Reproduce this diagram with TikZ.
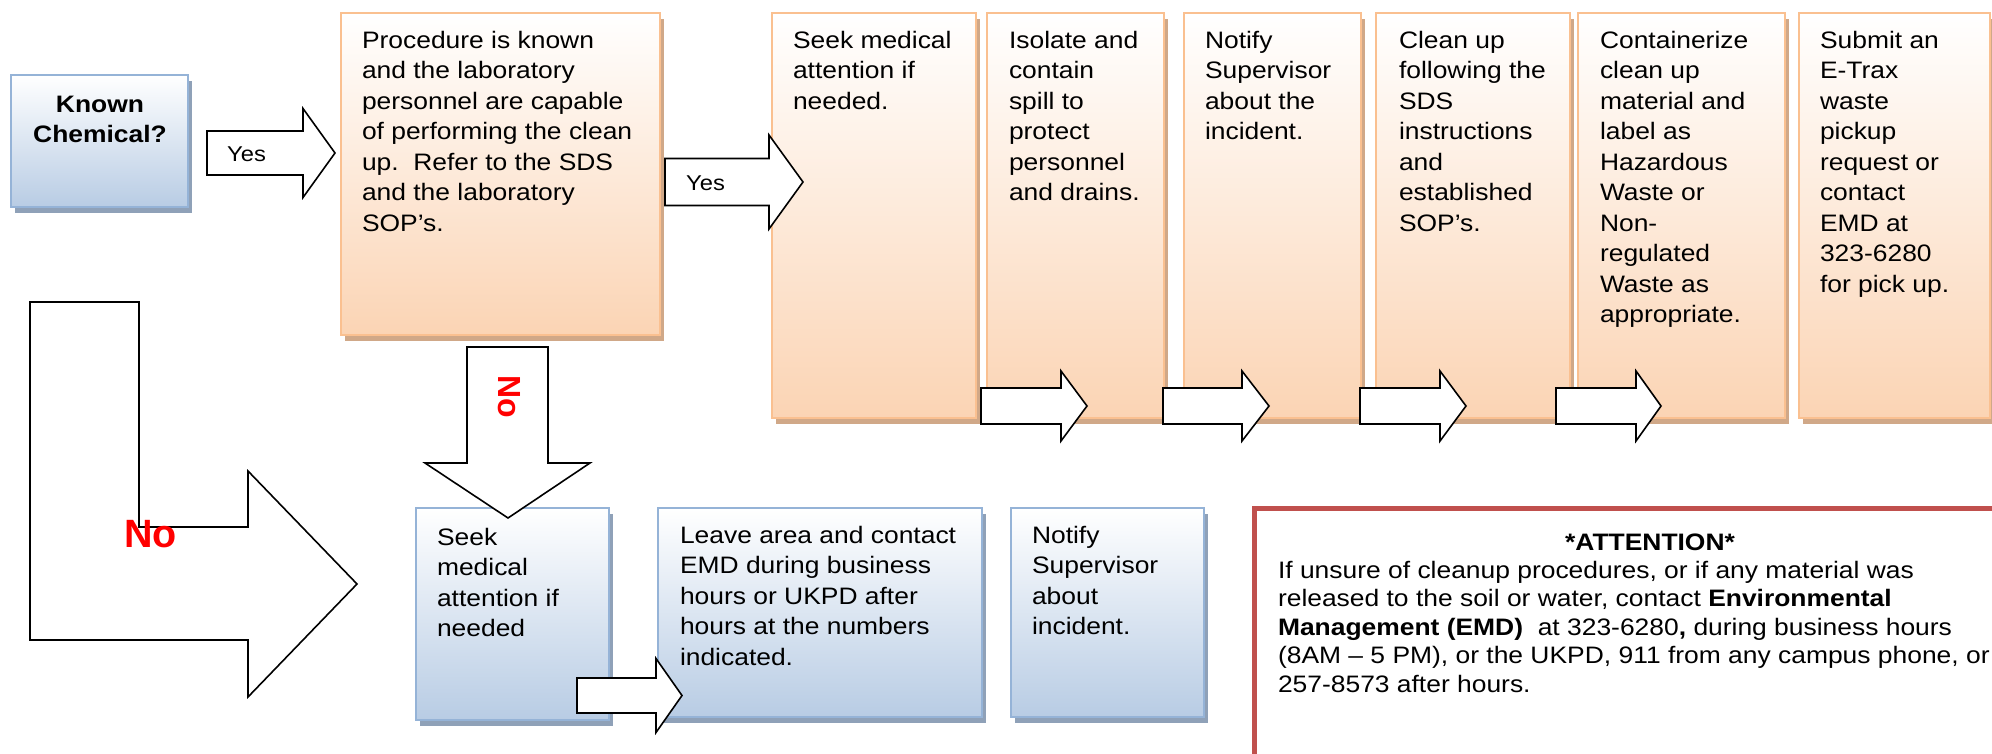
\documentclass[tikz,border=0pt]{standalone}
\usepackage{fontspec}
\setmainfont{Liberation Sans}[FakeStretch=1.11]
\newfontfamily\plainfont{Liberation Sans}
\usetikzlibrary{shadows}
\definecolor{oBorder}{HTML}{FAC090}
\definecolor{oFill}{HTML}{FBD4B4}
\definecolor{oShadow}{HTML}{D0A888}
\definecolor{bBorder}{HTML}{95B3D7}
\definecolor{bFill}{HTML}{B8CCE4}
\definecolor{bShadow}{HTML}{8FA1B8}
\definecolor{attRed}{HTML}{C0504D}
\newcommand\mkbox[6]{\node[#1, minimum width={#4-#2}, minimum height={#5-#3}] (#6) at (#2,#3) {};}
\newcommand\harrow[6]{\draw[blockarrow] (#1,#4-#5) -- (#2,#4-#5) -- (#2,#4-#6) -- (#3,#4) -- (#2,#4+#6) -- (#2,#4+#5) -- (#1,#4+#5) -- cycle;}
\begin{document}
\begin{tikzpicture}[x=1pt,y=-1pt,
  boxbase/.style={rectangle, inner sep=0pt, outer sep=0pt, anchor=north west},
  orangebox/.style={boxbase, draw=oBorder, line width=2.5pt, top color=white, bottom color=oFill,
     general shadow={fill=oShadow, shadow xshift=4pt, shadow yshift=-6pt}},
  bluebox/.style={boxbase, draw=bBorder, line width=2pt, top color=white, bottom color=bFill,
     general shadow={fill=bShadow, shadow xshift=4pt, shadow yshift=-6pt}},
  txt/.style={inner sep=0pt, outer sep=0pt, anchor=north west, align=left, font=\fontsize{23.8}{30.5}\selectfont},
  yeslabel/.style={inner sep=0pt, anchor=base west, font=\fontsize{21.4}{24}\selectfont},
  blockarrow/.style={draw=black, fill=white, line width=1.6pt, line join=miter},
]
\fill[white] (0,0) rectangle (1992,754);
\clip (0,0) rectangle (1992,754);

% Known chemical
\mkbox{bluebox}{11}{75}{188}{207}{known}
\node[inner sep=0pt, anchor=north, align=center, font=\fontsize{23.8}{29.5}\selectfont\bfseries] (tknown) at (100,96) {Known\\Chemical?};

% Procedure box
\mkbox{orangebox}{341}{13}{660}{335}{proc}
\node[txt] (tproc) at (362,31) {Procedure is known\\and the laboratory\\personnel are capable\\of performing the clean\\up.\ \ Refer to the SDS\\and the laboratory\\SOP’s.};

% top row
\mkbox{orangebox}{772}{13}{976}{418}{seek}
\mkbox{orangebox}{987}{13}{1164}{418}{isolate}
\mkbox{orangebox}{1184}{13}{1361}{418}{notify}
\mkbox{orangebox}{1376}{13}{1570}{418}{clean}
\mkbox{orangebox}{1578}{13}{1785}{418}{contain}
\mkbox{orangebox}{1799}{13}{1990}{418}{submit}
\node[txt] (tseek) at (793,31) {Seek medical\\attention if\\needed.};
\node[txt] (tisolate) at (1009,31) {Isolate and\\contain\\spill to\\protect\\personnel\\and drains.};
\node[txt] (tnotify) at (1205,31) {Notify\\Supervisor\\about the\\incident.};
\node[txt] (tclean) at (1399,31) {Clean up\\following the\\SDS\\instructions\\and\\established\\SOP’s.};
\node[txt] (tcontain) at (1600,31) {Containerize\\clean up\\material and\\label as\\Hazardous\\Waste or\\Non-\\regulated\\Waste as\\appropriate.};
\node[txt] (tsubmit) at (1820,31) {Submit an\\E-Trax\\waste\\pickup\\request or\\contact\\EMD at\\323-6280\\for pick up.};

% Yes arrows
\harrow{207}{303}{335}{153}{22}{44.5}
\node[yeslabel] (yes1) at (227,162) {Yes};
\harrow{665}{769}{803}{182}{23.5}{47}
\node[yeslabel] (yes2) at (686,191) {Yes};

% small top arrows
\harrow{981}{1061}{1087}{406}{18}{35}
\harrow{1163}{1242}{1269}{406}{18}{35}
\harrow{1360}{1440}{1466}{406}{18}{35}
\harrow{1556}{1636}{1661}{406}{18}{35}

% bottom boxes
\mkbox{bluebox}{416}{508}{609}{720}{seekb}
\mkbox{bluebox}{658}{508}{982}{717}{leave}
\mkbox{bluebox}{1011}{508}{1204}{717}{notifyb}
\node[txt] (tseekb) at (437,528) {Seek\\medical\\attention if\\needed};
\node[txt] (tleave) at (680,526) {Leave area and contact\\EMD during business\\hours or UKPD after\\hours at the numbers\\indicated.};
\node[txt] (tnotifyb) at (1032,526) {Notify\\Supervisor\\about\\incident.};

% down arrow
\draw[blockarrow] (467,347) -- (548,347) -- (548,463) -- (590,463) -- (508,518) -- (425,463) -- (467,463) -- cycle;
% small bottom arrow
\harrow{577}{656}{682}{695.5}{17.5}{37}
% L arrow
\draw[blockarrow] (30,302) -- (139,302) -- (139,527) -- (248,527) -- (248,471) -- (357,584) -- (248,697) -- (248,640) -- (30,640) -- cycle;

% No labels
\node[inner sep=0pt, anchor=base, text=red, font={\fontsize{39.5}{40}\plainfont\bfseries}] (nobig) at (150.5,547) {No};
\node[inner sep=0pt, rotate=-90, text=red, font={\fontsize{32}{34}\plainfont\bfseries}] (norot) at (509,397) {No};

% attention
\node[rectangle, draw=attRed, line width=5pt, inner sep=0pt, outer sep=0pt, anchor=north west, minimum width=800, minimum height=300] (att) at (1254.5,508.5) {};
\node[inner sep=0pt, anchor=base, font=\fontsize{23.8}{28.5}\selectfont\bfseries] (atttitle) at (1650,550) {*ATTENTION*};
\node[txt, font=\fontsize{23.8}{28.5}\selectfont] (attbody) at (1278,561) {If unsure of cleanup procedures, or if any material was\\released to the soil or water, contact \textbf{Environmental}\\\textbf{Management (EMD)}\ \ at 323-6280\textbf{,} during business hours\\(8AM – 5 PM), or the UKPD, 911 from any campus phone, or\\257-8573 after hours.};
\end{tikzpicture}
\end{document}
